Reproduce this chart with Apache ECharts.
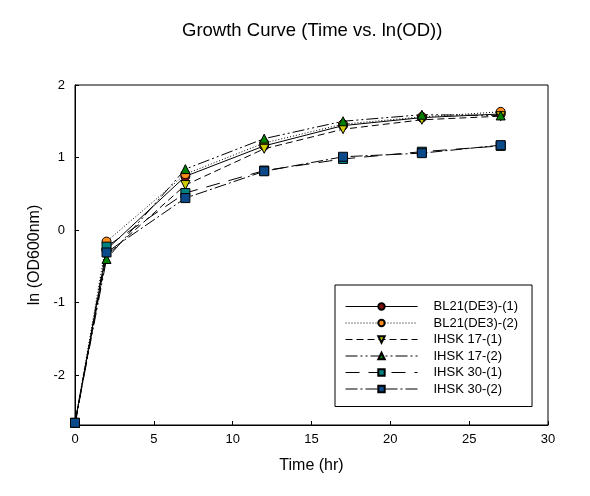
<!DOCTYPE html>
<html><head><meta charset="utf-8">
<script src="https://cdn.jsdelivr.net/npm/echarts@6/dist/echarts.min.js"></script>
<style>html,body{margin:0;padding:0;background:#fff}#c{width:590px;height:496px}</style>
</head><body><div id="c"></div>
<script>
const times = [0, 2, 7, 12, 17, 22, 27];
const seriesNames = ['BL21(DE3)-(1)', 'BL21(DE3)-(2)', 'IHSK 17-(1)', 'IHSK 17-(2)', 'IHSK 30-(1)', 'IHSK 30-(2)'];
const bl21_1 = [-2.66, -0.27, 0.74, 1.16, 1.44, 1.55, 1.60];
const bl21_2 = [-2.66, -0.16, 0.77, 1.20, 1.46, 1.56, 1.63];
const ihsk17_1 = [-2.66, -0.35, 0.62, 1.12, 1.39, 1.52, 1.57];
const ihsk17_2 = [-2.66, -0.40, 0.84, 1.26, 1.50, 1.59, 1.58];
const ihsk30_1 = [-2.70, -0.23, 0.51, 0.82, 0.98, 1.08, 1.16];
const ihsk30_2 = [-2.66, -0.31, 0.44, 0.81, 1.01, 1.06, 1.17];
const yTicks = [-2, -1, 0, 1, 2];
const xTicks = [0, 5, 10, 15, 20, 25, 30];

const values = [bl21_1, bl21_2, ihsk17_1, ihsk17_2, ihsk30_1, ihsk30_2];
const colors = ['#8b1010', '#ff8c1a', '#cccc00', '#008000', '#008080', '#0a4a8a'];
const symbols = ['circle', 'circle', 'path://M0,0 L10,0 L5,10 Z', 'triangle', 'rect', 'rect'];
const dashes = ['solid', [1, 2], [7, 4], [12, 3, 2, 3, 2, 3], [14, 9], [12, 3, 2, 3]];

const series = values.map((v, i) => ({
  name: seriesNames[i],
  type: 'line',
  data: times.map((t, j) => [t, v[j]]),
  symbol: symbols[i],
  symbolSize: 9,
  lineStyle: { color: '#000', width: 1, type: dashes[i] },
  itemStyle: { color: colors[i], borderColor: '#000', borderWidth: 1 },
  emphasis: { disabled: true },
  animation: false
}));

const chart = echarts.init(document.getElementById('c'));
chart.setOption({
  backgroundColor: '#fff',
  animation: false,
  title: {
    text: 'Growth Curve (Time vs. ln(OD))',
    left: 177, top: 16,
    textStyle: { fontFamily: 'Liberation Sans, Arial', fontSize: 18.5, fontWeight: 'normal', color: '#000' }
  },
  grid: { left: 75, right: 42, top: 85, bottom: 71, show: true, borderColor: '#000', borderWidth: 1 },
  legend: {
    orient: 'vertical',
    left: 335, top: 285,
    padding: [15, 14, 11, 10],
    borderColor: '#000', borderWidth: 1,
    itemWidth: 72, itemHeight: 8, itemGap: 3.5,
    lineStyle: { width: 1 },
    textStyle: { fontFamily: 'Liberation Sans, Arial', fontSize: 13, color: '#000', padding: [0, 0, 0, 11], lineHeight: 13 },
    data: seriesNames
  },
  xAxis: {
    type: 'value', min: 0, max: 30, interval: 5,
    name: 'Time (hr)', nameLocation: 'middle', nameGap: 33,
    nameTextStyle: { fontFamily: 'Liberation Sans, Arial', fontSize: 16, color: '#000' },
    axisLine: { onZero: false, lineStyle: { color: '#000', width: 1 } },
    axisTick: { inside: true, length: 4, lineStyle: { color: '#000' } },
    axisLabel: { fontFamily: 'Liberation Sans, Arial', fontSize: 13, color: '#000', margin: 8 },
    splitLine: { show: false }
  },
  yAxis: {
    type: 'value', min: -2.69, max: 2,
    name: 'ln (OD600nm)', nameLocation: 'middle', nameGap: 30,
    nameTextStyle: { fontFamily: 'Liberation Sans, Arial', fontSize: 16, color: '#000' },
    axisLine: { show: true, onZero: false, lineStyle: { color: '#000', width: 1 } },
    axisTick: { show: true, inside: true, length: 4, lineStyle: { color: '#000' }, customValues: yTicks },
    axisLabel: { fontFamily: 'Liberation Sans, Arial', fontSize: 13, color: '#000', margin: 10, customValues: yTicks },
    splitLine: { show: false }
  },
  series: series
});
</script>
</body></html>
